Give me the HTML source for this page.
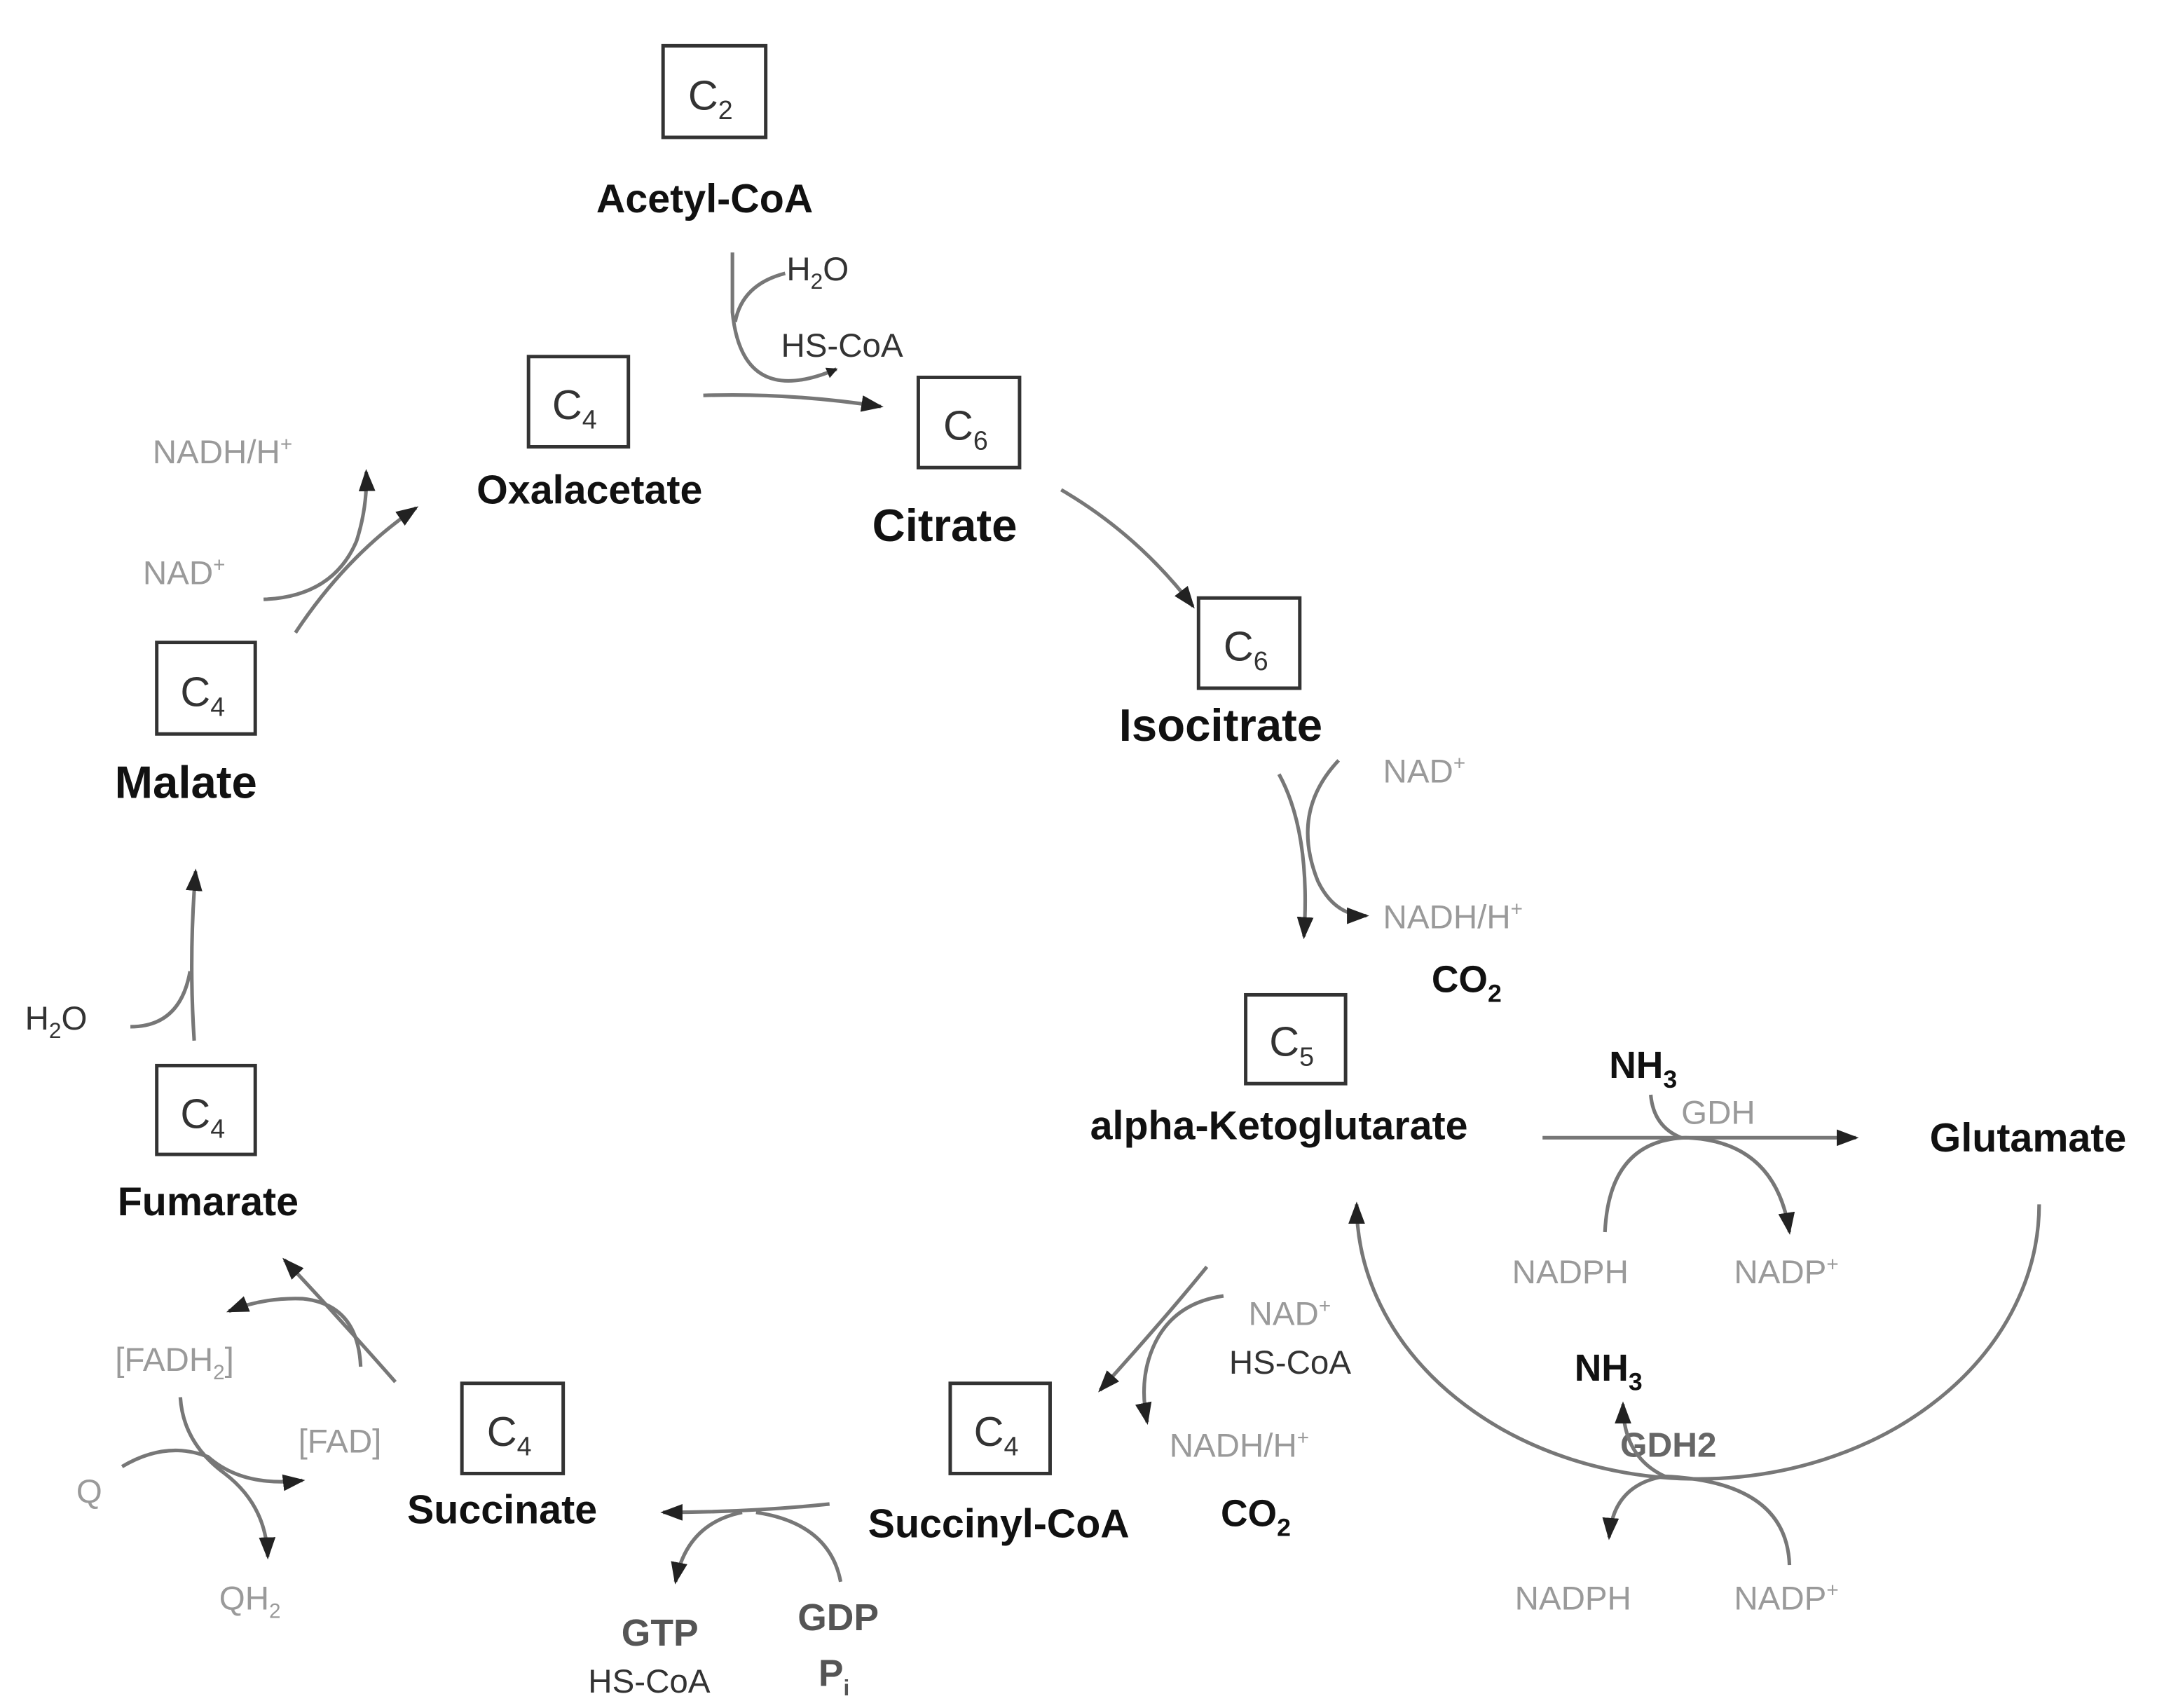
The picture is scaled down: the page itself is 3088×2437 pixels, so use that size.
<!DOCTYPE html>
<html><head><meta charset="utf-8"><style>
html,body{margin:0;padding:0;background:#fff;}
svg{display:block;}
text{font-family:"Liberation Sans","DejaVu Sans",sans-serif;}
.b{font-weight:bold;fill:#111;}
.g{fill:#9a9a9a;font-size:24px;}
.d{fill:#333;font-size:24px;}
.bx{fill:none;stroke:#333;stroke-width:2.5;}
.ln{fill:none;stroke:#777;stroke-width:2.6;}
.c{font-size:30px;fill:#333;}
</style></head><body>
<svg width="3088" height="2437" viewBox="0 0 1560 1231" preserveAspectRatio="none" xmlns="http://www.w3.org/2000/svg">
<defs>
<marker id="a" markerWidth="8" markerHeight="8" refX="7" refY="4" orient="auto" markerUnits="userSpaceOnUse" viewBox="0 0 8 8"><path d="M0,0 L8,4 L0,8 Z" fill="#222"/></marker>
<marker id="A" markerWidth="16" markerHeight="12" refX="14" refY="6" orient="auto" markerUnits="userSpaceOnUse"><path d="M0,0 L16,6 L0,12 Z" fill="#222"/></marker>
</defs>
<!-- boxes -->
<rect class="bx" x="478" y="33" width="74" height="66"/><text class="c" x="496" y="79">C<tspan font-size="19" dy="7">2</tspan></text>
<rect class="bx" x="381" y="257" width="72" height="65"/><text class="c" x="398" y="302">C<tspan font-size="19" dy="7">4</tspan></text>
<rect class="bx" x="662" y="272" width="73" height="65"/><text class="c" x="680" y="317">C<tspan font-size="19" dy="7">6</tspan></text>
<rect class="bx" x="864" y="431" width="73" height="65"/><text class="c" x="882" y="476">C<tspan font-size="19" dy="7">6</tspan></text>
<rect class="bx" x="898" y="717" width="72" height="64"/><text class="c" x="915" y="761">C<tspan font-size="19" dy="7">5</tspan></text>
<rect class="bx" x="685" y="997" width="72" height="65"/><text class="c" x="702" y="1042">C<tspan font-size="19" dy="7">4</tspan></text>
<rect class="bx" x="333" y="997" width="73" height="65"/><text class="c" x="351" y="1042">C<tspan font-size="19" dy="7">4</tspan></text>
<rect class="bx" x="113" y="768" width="71" height="64"/><text class="c" x="130" y="813">C<tspan font-size="19" dy="7">4</tspan></text>
<rect class="bx" x="113" y="463" width="71" height="66"/><text class="c" x="130" y="509">C<tspan font-size="19" dy="7">4</tspan></text>
<!-- names -->
<text class="b" x="508" y="153" font-size="29" text-anchor="middle">Acetyl-CoA</text>
<text class="b" x="425" y="363" font-size="29" text-anchor="middle">Oxalacetate</text>
<text class="b" x="681" y="390" font-size="33" text-anchor="middle">Citrate</text>
<text class="b" x="880" y="534" font-size="33" text-anchor="middle">Isocitrate</text>
<text class="b" x="922" y="821" font-size="29" text-anchor="middle">alpha-Ketoglutarate</text>
<text class="b" x="1462" y="830" font-size="29" text-anchor="middle">Glutamate</text>
<text class="b" x="720" y="1108" font-size="29" text-anchor="middle">Succinyl-CoA</text>
<text class="b" x="362" y="1098" font-size="29" text-anchor="middle">Succinate</text>
<text class="b" x="150" y="876" font-size="29" text-anchor="middle">Fumarate</text>
<text class="b" x="134" y="575" font-size="33" text-anchor="middle">Malate</text>
<!-- acetyl step -->
<text class="d" x="567" y="202">H<tspan font-size="16" dy="6">2</tspan><tspan dy="-6">O</tspan></text>
<text class="d" x="563" y="257">HS-CoA</text>
<path class="ln" d="M528,182 L528,225 Q535,295 603,266" marker-end="url(#a)"/>
<path class="ln" d="M566,197 Q535,205 530,232"/>
<path class="ln" d="M507,285 Q570,283 635,293" marker-end="url(#A)"/>
<!-- citrate->isocitrate -->
<path class="ln" d="M765,353 Q820,385 860,437" marker-end="url(#A)"/>
<!-- isocitrate step -->
<text class="g" x="997" y="564">NAD<tspan font-size="15" dy="-9">+</tspan></text>
<text class="g" x="997" y="669">NADH/H<tspan font-size="15" dy="-9">+</tspan></text>
<text class="b" x="1032" y="715" font-size="27" fill="#333">CO<tspan font-size="18" dy="7">2</tspan></text>
<path class="ln" d="M922,558 Q945,600 940,675" marker-end="url(#A)"/>
<path class="ln" d="M965,548 Q930,585 950,635 Q962,660 985,660" marker-end="url(#A)"/>
<!-- GDH -->
<text class="b" x="1160" y="777" font-size="27">NH<tspan font-size="18" dy="7">3</tspan></text>
<text class="g" x="1212" y="810">GDH</text>
<path class="ln" d="M1112,820 L1338,820" marker-end="url(#A)"/>
<path class="ln" d="M1190,789 Q1192,812 1212,820"/>
<path class="ln" d="M1157,888 Q1160,822 1215,820 Q1280,822 1290,888" marker-end="url(#A)"/>
<text class="g" x="1090" y="925">NADPH</text>
<text class="g" x="1250" y="925">NADP<tspan font-size="15" dy="-9">+</tspan></text>
<!-- big arc -->
<path class="ln" d="M1470,868 A246,198 0 0 1 978,868" marker-end="url(#A)"/>
<text class="b" x="1135" y="995" font-size="27">NH<tspan font-size="18" dy="7">3</tspan></text>
<text x="1168" y="1050" font-size="25" font-weight="bold" fill="#666">GDH2</text>
<path class="ln" d="M1200,1064 Q1170,1050 1170,1012" marker-end="url(#A)"/>
<path class="ln" d="M1200,1064 Q1163,1070 1160,1108" marker-end="url(#A)"/>
<path class="ln" d="M1290,1128 Q1288,1068 1200,1064"/>
<text class="g" x="1092" y="1160">NADPH</text>
<text class="g" x="1250" y="1160">NADP<tspan font-size="15" dy="-9">+</tspan></text>
<!-- aKG -> succinyl -->
<text class="g" x="900" y="955">NAD<tspan font-size="15" dy="-9">+</tspan></text>
<text class="d" x="886" y="990">HS-CoA</text>
<text class="g" x="843" y="1050">NADH/H<tspan font-size="15" dy="-9">+</tspan></text>
<text class="b" x="880" y="1100" font-size="27" fill="#333">CO<tspan font-size="18" dy="7">2</tspan></text>
<path class="ln" d="M870,913 Q840,950 793,1002" marker-end="url(#A)"/>
<path class="ln" d="M882,934 Q840,940 828,980 Q822,1000 827,1025" marker-end="url(#A)"/>
<!-- succinyl -> succinate -->
<path class="ln" d="M598,1084 Q540,1090 478,1090" marker-end="url(#A)"/>
<path class="ln" d="M535,1090 Q495,1098 487,1140" marker-end="url(#A)"/>
<path class="ln" d="M606,1140 Q598,1098 545,1090"/>
<text x="448" y="1186" font-size="27" font-weight="bold" fill="#555">GTP</text>
<text class="d" x="424" y="1220">HS-CoA</text>
<text x="575" y="1175" font-size="27" font-weight="bold" fill="#555">GDP</text>
<text x="590" y="1215" font-size="27" font-weight="bold" fill="#555">P<tspan font-size="16" dy="7">i</tspan></text>
<!-- succinate -> fumarate -->
<path class="ln" d="M285,996 Q240,945 205,908" marker-end="url(#A)"/>
<path class="ln" d="M260,985 Q258,940 218,936 Q190,935 165,945" marker-end="url(#A)"/>
<text class="g" x="83" y="988">[FADH<tspan font-size="15" dy="6">2</tspan><tspan dy="-6">]</tspan></text>
<text class="g" x="215" y="1047">[FAD]</text>
<text class="g" x="55" y="1083">Q</text>
<text class="g" x="158" y="1160">QH<tspan font-size="15" dy="6">2</tspan></text>
<path class="ln" d="M88,1057 Q120,1038 150,1050 Q175,1072 218,1067" marker-end="url(#A)"/>
<path class="ln" d="M130,1007 Q132,1040 162,1062 Q192,1085 193,1122" marker-end="url(#A)"/>
<!-- fumarate -> malate -->
<path class="ln" d="M140,750 Q136,690 141,628" marker-end="url(#A)"/>
<text class="d" x="18" y="742">H<tspan font-size="16" dy="6">2</tspan><tspan dy="-6">O</tspan></text>
<path class="ln" d="M94,740 Q130,740 137,700"/>
<!-- malate -> oxalacetate -->
<path class="ln" d="M213,456 Q250,400 300,366" marker-end="url(#A)"/>
<path class="ln" d="M190,432 Q240,430 257,390 Q265,365 264,340" marker-end="url(#A)"/>
<text class="g" x="103" y="421">NAD<tspan font-size="15" dy="-9">+</tspan></text>
<text class="g" x="110" y="334">NADH/H<tspan font-size="15" dy="-9">+</tspan></text>
</svg>
</body></html>
